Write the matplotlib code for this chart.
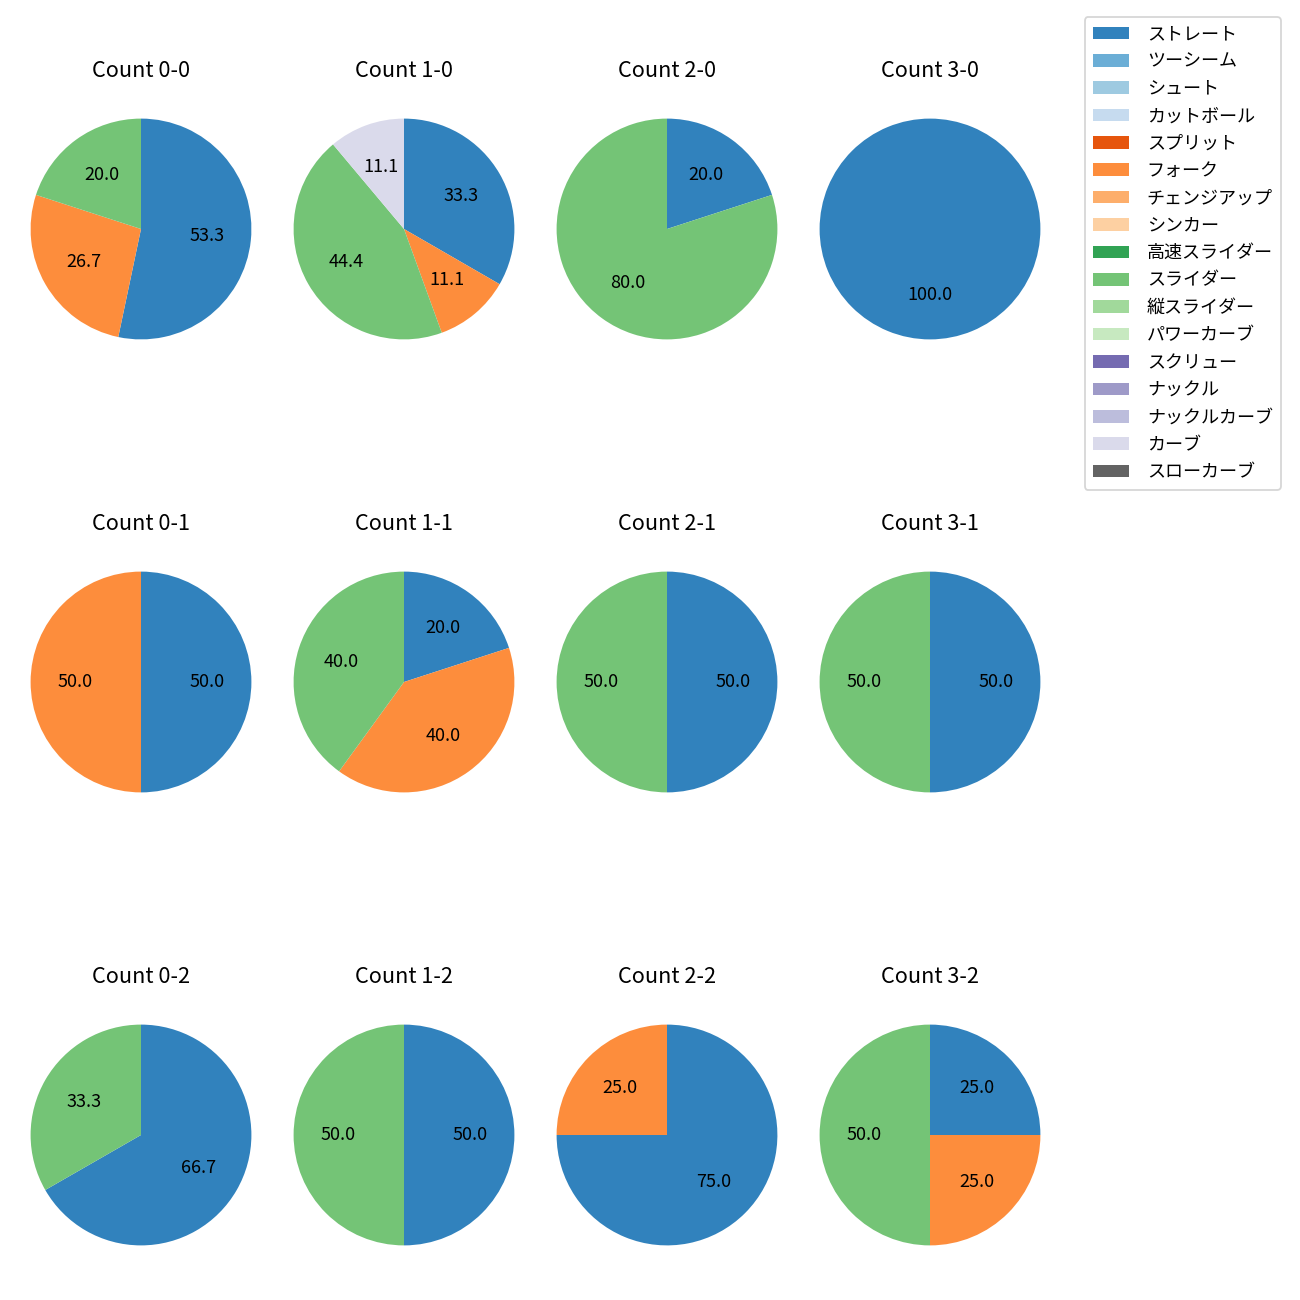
import matplotlib
matplotlib.use("Agg")
import matplotlib.pyplot as plt
from matplotlib.patches import Patch

plt.rcParams['font.family'] = ['Noto Sans CJK JP', 'DejaVu Sans']

pitch_types = ['ストレート', 'ツーシーム', 'シュート', 'カットボール', 'スプリット', 'フォーク',
               'チェンジアップ', 'シンカー', '高速スライダー', 'スライダー', '縦スライダー',
               'パワーカーブ', 'スクリュー', 'ナックル', 'ナックルカーブ', 'カーブ', 'スローカーブ']
pitch_colors = ['#3182bd', '#6baed6', '#9ecae1', '#c6dbef', '#e6550d', '#fd8d3c',
                '#fdae6b', '#fdd0a2', '#31a354', '#74c476', '#a1d99b', '#c7e9c0',
                '#756bb1', '#9e9ac8', '#bcbddc', '#dadaeb', '#636363']

counts = ['0-0', '1-0', '2-0', '3-0',
          '0-1', '1-1', '2-1', '3-1',
          '0-2', '1-2', '2-2', '3-2']
straight = [53.3, 33.3, 20.0, 100.0, 50.0, 20.0, 50.0, 50.0, 66.7, 50.0, 75.0, 25.0]
fork     = [26.7, 11.1, 0.0, 0.0, 50.0, 40.0, 0.0, 0.0, 0.0, 0.0, 25.0, 25.0]
slider   = [20.0, 44.4, 80.0, 0.0, 0.0, 40.0, 50.0, 50.0, 33.3, 50.0, 0.0, 50.0]
curve    = [0.0, 11.1, 0.0, 0.0, 0.0, 0.0, 0.0, 0.0, 0.0, 0.0, 0.0, 0.0]

series = {'ストレート': straight, 'フォーク': fork, 'スライダー': slider, 'カーブ': curve}

fig, axes = plt.subplots(3, 4, figsize=(10, 10), dpi=130)
fig.subplots_adjust(left=3/1300, right=1068/1300, bottom=27/1300, top=1209/1300,
                    wspace=-13/276, hspace=177/276)

for i, cnt in enumerate(counts):
    ax = axes[i // 4][i % 4]
    vals, cols = [], []
    for name in pitch_types:
        if name in series and series[name][i] > 0:
            vals.append(series[name][i])
            cols.append(pitch_colors[pitch_types.index(name)])
    ax.pie(vals, colors=cols, startangle=90, counterclock=False, autopct='%.1f',
           textprops={'fontsize': 10})
    ax.set_title(f'Count {cnt}', fontsize=12, pad=8)

handles = [Patch(facecolor=c, label=n) for n, c in zip(pitch_types, pitch_colors)]
fig.legend(handles=handles, loc='upper right', bbox_to_anchor=(1290/1300, 1 - 8/1300),
           fontsize=10, labelspacing=0.52, handletextpad=1.0, borderpad=0.45)

fig.savefig('out.png', dpi=130)
